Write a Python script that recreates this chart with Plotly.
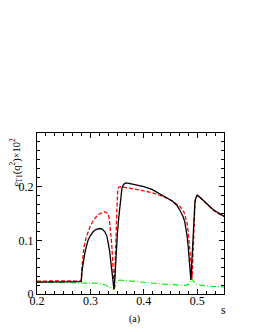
import plotly.graph_objects as go

# ---- data ----
s_black = [0.20, 0.24, 0.28, 0.2827, 0.2845, 0.2870, 0.2895, 0.2925, 0.2957, 0.300, 0.305, 0.310, 0.3175,
           0.322, 0.327, 0.331, 0.334, 0.336, 0.3375, 0.339, 0.341, 0.3425, 0.344, 0.3455, 0.3467, 0.3485,
           0.3505, 0.353, 0.355, 0.357, 0.359, 0.362, 0.366, 0.372, 0.380, 0.390, 0.400, 0.415, 0.430, 0.445,
           0.455, 0.462, 0.4675, 0.4705, 0.4735, 0.4765, 0.4786, 0.481, 0.483, 0.4848, 0.486, 0.487, 0.488,
           0.4893, 0.491, 0.4925, 0.4935, 0.4955, 0.497, 0.4997, 0.504, 0.511, 0.517, 0.523, 0.530, 0.538,
           0.548, 0.550]
v_black = [0.022, 0.022, 0.022, 0.023, 0.045, 0.063, 0.076, 0.089, 0.1005, 0.109, 0.116, 0.120, 0.122,
           0.121, 0.116, 0.107, 0.094, 0.080, 0.066, 0.052, 0.032, 0.018, 0.009, 0.025, 0.051, 0.085,
           0.113, 0.142, 0.163, 0.185, 0.197, 0.204, 0.207, 0.206, 0.2045, 0.202, 0.200, 0.195, 0.187, 0.178,
           0.172, 0.165, 0.156, 0.151, 0.144, 0.135, 0.125, 0.108, 0.088, 0.065, 0.045, 0.033, 0.026,
           0.050, 0.088, 0.125, 0.150, 0.170, 0.178, 0.184, 0.181, 0.175, 0.169, 0.163, 0.157, 0.152,
           0.146, 0.145]

s_red = [0.20, 0.22, 0.24, 0.26, 0.28, 0.2827, 0.2845, 0.288, 0.292, 0.299, 0.305, 0.311, 0.318, 0.323,
         0.327, 0.331, 0.334, 0.3355, 0.337, 0.339, 0.3405, 0.3424, 0.3435, 0.3445, 0.3455, 0.3467, 0.3485,
         0.350, 0.351, 0.3525, 0.356, 0.365, 0.380, 0.400, 0.415, 0.430, 0.445, 0.455, 0.4675, 0.475, 0.478,
         0.481, 0.4835, 0.486, 0.4875, 0.489, 0.4903, 0.492, 0.4935, 0.495, 0.496, 0.4985, 0.500, 0.504,
         0.511, 0.517, 0.523, 0.530, 0.538, 0.548, 0.550]
v_red = [0.024, 0.0245, 0.024, 0.0245, 0.024, 0.025, 0.055, 0.088, 0.105, 0.125, 0.136, 0.144, 0.150, 0.1525,
         0.153, 0.151, 0.146, 0.138, 0.125, 0.103, 0.082, 0.0385, 0.015, 0.010, 0.035, 0.082, 0.144,
         0.169, 0.190, 0.199, 0.200, 0.199, 0.196, 0.192, 0.189, 0.184, 0.178, 0.172, 0.163, 0.153, 0.143,
         0.132, 0.110, 0.088, 0.068, 0.051, 0.029, 0.075, 0.119, 0.155, 0.175, 0.183, 0.184, 0.181,
         0.174, 0.168, 0.162, 0.156, 0.151, 0.145, 0.144]

s_green = [0.20, 0.25, 0.30, 0.314, 0.325, 0.336, 0.341, 0.344, 0.347, 0.351, 0.355, 0.370, 0.400, 0.430,
           0.460, 0.478, 0.484, 0.487, 0.489, 0.492, 0.4985, 0.510, 0.523, 0.550]
v_green = [0.022, 0.0215, 0.021, 0.020, 0.018, 0.0125, 0.010, 0.0085, 0.015, 0.024, 0.026, 0.0245, 0.021,
           0.019, 0.017, 0.016, 0.018, 0.024, 0.029, 0.025, 0.018, 0.016, 0.0145, 0.013]

x_ticks = [0.2, 0.3, 0.4, 0.5]
x_ticklabels = ["0.2", "0.3", "0.4", "0.5"]
y_ticks = [0, 0.1, 0.2]
y_ticklabels = ["0", "0.1", "0.2"]

FONT = "Liberation Serif"

fig = go.Figure()
fig.add_trace(go.Scatter(x=s_green, y=v_green, mode="lines",
                         line=dict(color="#00ee00", width=1.1, dash="6px,2px,1px,2px")))
fig.add_trace(go.Scatter(x=s_red, y=v_red, mode="lines",
                         line=dict(color="#ff0000", width=1.3, dash="4px,2px")))
fig.add_trace(go.Scatter(x=s_black, y=v_black, mode="lines",
                         line=dict(color="#000000", width=1.3)))

axis_common = dict(
    showgrid=False, zeroline=False, showline=True, linecolor="#000000", linewidth=1.2,
    mirror="allticks", ticks="inside", ticklen=5, tickwidth=1, tickcolor="#000000",
    tickfont=dict(family=FONT, size=12, color="#000000"),
)

fig.update_xaxes(range=[0.2, 0.55], tickvals=x_ticks, ticktext=x_ticklabels, ticklabelstandoff=-5,
                 minor=dict(ticks="inside", ticklen=2.5, tickcolor="#000000", dtick=0.1 / 6, tick0=0.2,
                            showgrid=False),
                 **axis_common)
fig.update_yaxes(range=[0, 0.3], tickvals=y_ticks, ticktext=y_ticklabels,
                 minor=dict(ticks="inside", ticklen=2.5, tickcolor="#000000", dtick=0.1 / 6, tick0=0,
                            showgrid=False),
                 **axis_common)

fig.update_layout(
    width=257, height=332,
    margin=dict(l=37, r=33, t=133, b=38, pad=0),
    paper_bgcolor="white", plot_bgcolor="white",
    showlegend=False,
    font=dict(family=FONT, color="#000000"),
    annotations=[
        dict(text="ε<sub>T1</sub>(q<sup>2</sup>)×10<sup>2</sup>", xref="paper", yref="paper",
             x=-0.112, y=0.815, xanchor="center", yanchor="middle", textangle=-90,
             showarrow=False, font=dict(family=FONT, size=10.5)),
        dict(text="s", xref="paper", yref="paper", x=0.998, y=-0.1, xanchor="center",
             yanchor="middle", showarrow=False, font=dict(family=FONT, size=12)),
        dict(text="(a)", xref="paper", yref="paper", x=0.524, y=-0.155, xanchor="center",
             yanchor="middle", showarrow=False, font=dict(family=FONT, size=10)),
    ],
)

fig.write_html("out.html", config={"displayModeBar": False},
               post_script="document.body.style.margin='0';")
